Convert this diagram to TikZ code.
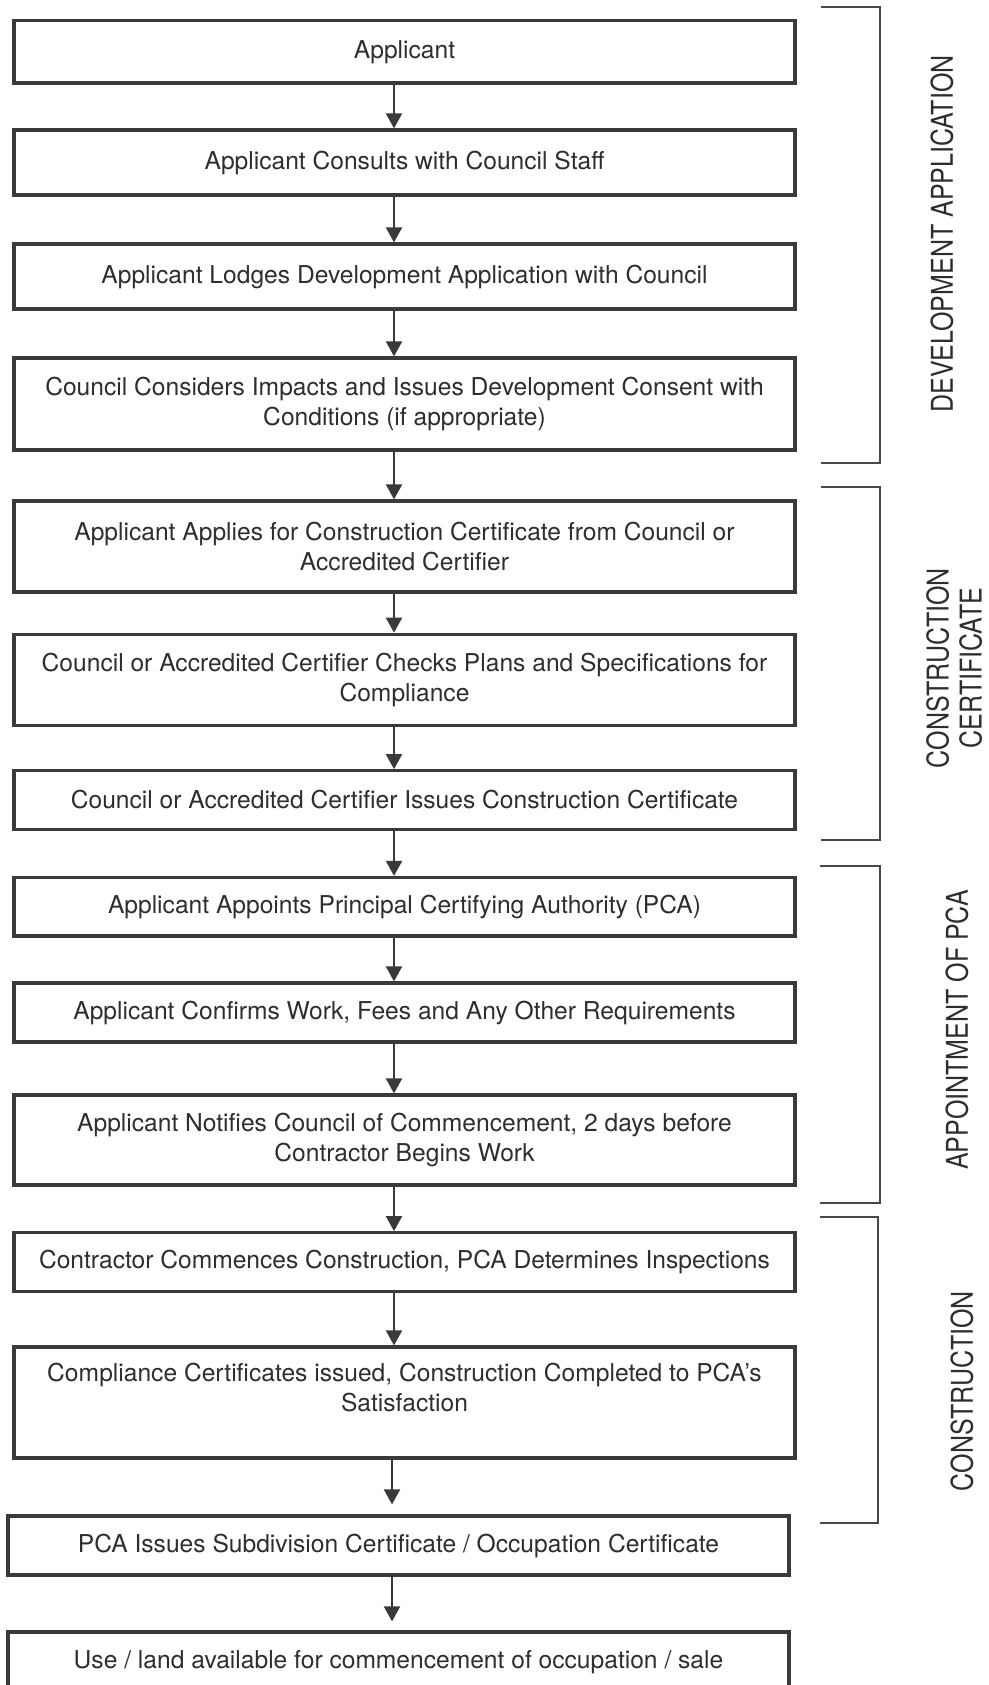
\documentclass[tikz,border=0pt]{standalone}
\usepackage{fontspec}
\setmainfont{TeX Gyre Heros}
\usetikzlibrary{arrows.meta}
\definecolor{boxc}{HTML}{3A3A3C}
\definecolor{txtc}{HTML}{2E2E30}
\definecolor{brc}{HTML}{48484A}
\begin{document}
\begin{tikzpicture}[x=1pt,y=-1pt,
 stepbox/.style={draw=boxc, line width=3.2pt, rectangle, minimum width=781pt, inner sep=0pt, align=center, text=txtc, font=\fontsize{24.6}{30}\selectfont},
 arr/.style={draw=boxc, line width=2pt, -{Triangle[length=15pt,width=16pt]}},
 brk/.style={draw=brc, line width=1.8pt},
 lbl/.style={rotate=90, text=txtc, font=\fontsize{25}{27.5}\selectfont, inner sep=0pt}
]
\useasboundingbox (0,0) rectangle (988,1685);
\clip (0,0) rectangle (988,1685);
\fill[white] (0,0) rectangle (988,1685);

\coordinate (ax) at (394,0);
\coordinate (bx) at (392,0);

\node[stepbox, minimum height=62.5pt] (b1) at (404.5,51.75) {Applicant};
\node[stepbox, minimum height=65pt] (b2) at (404.5,162.5) {Applicant Consults with Council Staff};
\node[stepbox, minimum height=65pt] (b3) at (404.5,276.5) {Applicant Lodges Development Application with Council};
\node[stepbox, minimum height=92pt] (b4) at (404.5,404) {Council Considers Impacts and Issues Development Consent with\\Conditions (if appropriate)};
\node[stepbox, minimum height=91pt] (b5) at (404.5,546.5) {Applicant Applies for Construction Certificate from Council or\\Accredited Certifier};
\node[stepbox, minimum height=91.5pt] (b6) at (404.5,680) {Council or Accredited Certifier Checks Plans and Specifications for\\Compliance};
\node[stepbox, minimum height=58.5pt] (b7) at (404.5,800) {Council or Accredited Certifier Issues Construction Certificate};
\node[stepbox, minimum height=58.5pt] (b8) at (404.5,906.75) {Applicant Appoints Principal Certifying Authority (PCA)};
\node[stepbox, minimum height=59pt] (b9) at (404.5,1012.5) {Applicant Confirms Work, Fees and Any Other Requirements};
\node[stepbox, minimum height=90pt] (b10) at (404.5,1140) {Applicant Notifies Council of Commencement, 2 days before\\Contractor Begins Work};
\node[stepbox, minimum height=58.5pt] (b11) at (404.5,1262) {Contractor Commences Construction, PCA Determines Inspections};
\node[stepbox, minimum height=111pt] (b12) at (404.5,1402.5) {Compliance Certificates issued, Construction Completed to PCA’s\\Satisfaction\\\mbox{}};
\node[stepbox, minimum height=59pt] (b13) at (398.5,1545.5) {PCA Issues Subdivision Certificate / Occupation Certificate};
\node[stepbox, minimum height=60pt] (b14) at (398.5,1662) {Use / land available for commencement of occupation / sale};

\draw[arr] (b1.south -| ax) -- (b2.north -| ax);
\draw[arr] (b2.south -| ax) -- (b3.north -| ax);
\draw[arr] (b3.south -| ax) -- (b4.north -| ax);
\draw[arr] (b4.south -| ax) -- (b5.north -| ax);
\draw[arr] (b5.south -| ax) -- (b6.north -| ax);
\draw[arr] (b6.south -| ax) -- (b7.north -| ax);
\draw[arr] (b7.south -| ax) -- (b8.north -| ax);
\draw[arr] (b8.south -| ax) -- (b9.north -| ax);
\draw[arr] (b9.south -| ax) -- (b10.north -| ax);
\draw[arr] (b10.south -| ax) -- (b11.north -| ax);
\draw[arr] (b11.south -| ax) -- (b12.north -| ax);
\draw[arr, shorten >=10pt] (b12.south -| bx) -- (b13.north -| bx);
\draw[arr, shorten >=9pt] (b13.south -| bx) -- (b14.north -| bx);

% brackets
\draw[brk] (821,7) -- (880,7) -- (880,463) -- (821,463);
\draw[brk] (821,487) -- (880,487) -- (880,840) -- (821,840);
\draw[brk] (820,866) -- (880,866) -- (880,1203) -- (820,1203);
\draw[brk] (820,1217) -- (878,1217) -- (878,1523) -- (820,1523);

\node[lbl] (l1) at (942,234) {\scalebox{1}[1.2]{DEVELOPMENT APPLICATION}};
\node[lbl] (l2) at (958.5,668) {\scalebox{1}[1.2]{\begin{tabular}{@{}c@{}}CONSTRUCTION\\CERTIFICATE\end{tabular}}};
\node[lbl] (l3) at (957,1030) {\scalebox{1}[1.2]{APPOINTMENT OF PCA}};
\node[lbl] (l4) at (962,1391) {\scalebox{1}[1.2]{CONSTRUCTION}};
\end{tikzpicture}
\end{document}
